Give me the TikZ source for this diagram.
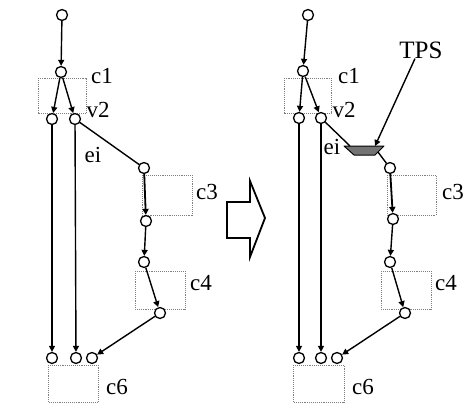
\documentclass[tikz,border=0pt]{standalone}
\usepackage{fontspec}
\setmainfont{Liberation Serif}
\usetikzlibrary{arrows.meta}
\begin{document}
\begin{tikzpicture}[x=1pt,y=-1pt]
	% Styles
	\tikzstyle{fleche}=[-{Triangle[length=6pt,width=6pt]},line width=1.4pt]
	\tikzstyle{trait}=[-,line width=1.4pt]
	\tikzstyle{sommet}=[circle,draw,line width=1.3pt,minimum size=11pt,inner sep=0pt,fill=white]
	\tikzstyle{boite}=[draw=gray,densely dotted,line width=0.9pt]
	\tikzstyle{etiquette}=[font=\fontsize{23}{26}\selectfont,inner sep=0pt]
	\tikzstyle{bloc}=[draw,line width=1pt,fill=black!55,line join=round]
	% Cadre
	\useasboundingbox (0,0) rectangle (464,418);
	% Boites (gauche)
	\draw[boite] (38,78) rectangle (86,113);
	\draw[boite] (142,175) rectangle (192,215);
	\draw[boite] (135,271) rectangle (185,309);
	\draw[boite] (48,365) rectangle (98,402);
	% Boites (droite)
	\draw[boite] (284,78) rectangle (331,113);
	\draw[boite] (387,175) rectangle (436,215);
	\draw[boite] (381,271) rectangle (431,309);
	\draw[boite] (293,365) rectangle (344,402);
	% Grosse fleche
	\draw[line width=1.8pt,line join=miter] (227,202) -- (250,202) -- (250,181) -- (265,218)
		-- (250,257) -- (250,238) -- (227,238) -- cycle;
	% Noeuds (gauche)
	\node[sommet] (Gsrc) at (62,15) {};
	\node[sommet] (Gc1) at (61,72) {};
	\node[sommet] (Gg) at (52,119) {};
	\node[sommet] (Gv) at (75,119) {};
	\node[sommet] (Gc3a) at (144,168) {};
	\node[sommet] (Gc3b) at (146,221) {};
	\node[sommet] (Gc4a) at (144,262) {};
	\node[sommet] (Gc4b) at (160,313) {};
	\node[sommet] (Gc6a) at (52,358) {};
	\node[sommet] (Gc6b) at (76,358) {};
	\node[sommet] (Gc6c) at (92,358) {};
	\node[etiquette] (Glc1) at (102,76) {c1};
	\node[etiquette] (Glv2) at (98,110) {v2};
	\node[etiquette] (Glei) at (93,155) {ei};
	\node[etiquette] (Glc3) at (207,192) {c3};
	\node[etiquette] (Glc4) at (201,283) {c4};
	\node[etiquette] (Glc6) at (117,387) {c6};
	% Noeuds (droite)
	\node[sommet] (Dsrc) at (308,15) {};
	\node[sommet] (Dc1) at (303,71) {};
	\node[sommet] (Dg) at (299,118) {};
	\node[sommet] (Dv) at (321,118) {};
	\draw[bloc] (344,146) -- (384,146) -- (375,155) -- (354,155) -- cycle;
	\coordinate (tpsE) at (350,146);
	\coordinate (tpsS) at (378,152);
	\coordinate (tpsH) at (375,146);
	\node[sommet] (Dc3a) at (390,168) {};
	\node[sommet] (Dc3b) at (393,219) {};
	\node[sommet] (Dc4a) at (390,262) {};
	\node[sommet] (Dc4b) at (405,313) {};
	\node[sommet] (Dc6a) at (299,358) {};
	\node[sommet] (Dc6b) at (321,358) {};
	\node[sommet] (Dc6c) at (337,358) {};
	\node[etiquette] (Dlc1) at (349,76) {c1};
	\node[etiquette] (Dlv2) at (344,110) {v2};
	\node[etiquette] (Dlei) at (332,147) {ei};
	\node[etiquette,font=\fontsize{25}{28}\selectfont] (Dltps) at (421,50) {TPS};
	\node[etiquette] (Dlc3) at (453,192) {c3};
	\node[etiquette] (Dlc4) at (446,283) {c4};
	\node[etiquette] (Dlc6) at (363,387) {c6};
	% Arcs (gauche)
	\draw[fleche] (Gsrc)--(Gc1);
	\draw[fleche] (Gc1)--(Gg);
	\draw[fleche] (Gc1)--(Gv);
	\draw[trait] (Gv)--(Gc3a);
	\draw[fleche,line width=1.8pt] (Gc3a)--(Gc3b);
	\draw[fleche] (Gc3b)--(Gc4a);
	\draw[fleche] (Gc4a)--(Gc4b);
	\draw[fleche] (Gc4b)--(Gc6c);
	\draw[fleche] (Gg)--(Gc6a);
	\draw[fleche] (Gv)--(Gc6b);
	% Arcs (droite)
	\draw[fleche] (Dsrc)--(Dc1);
	\draw[fleche] (Dc1)--(Dg);
	\draw[fleche] (Dc1)--(Dv);
	\draw[trait] (Dv)--(tpsE);
	\draw[trait] (tpsS)--(Dc3a);
	\draw[fleche] ([xshift=-6pt]Dltps.south)--(tpsH);
	\draw[fleche,line width=1.8pt] (Dc3a)--(Dc3b);
	\draw[fleche] (Dc3b)--(Dc4a);
	\draw[fleche] (Dc4a)--(Dc4b);
	\draw[fleche] (Dc4b)--(Dc6c);
	\draw[fleche] (Dg)--(Dc6a);
	\draw[fleche] (Dv)--(Dc6b);
\end{tikzpicture}
\end{document}
